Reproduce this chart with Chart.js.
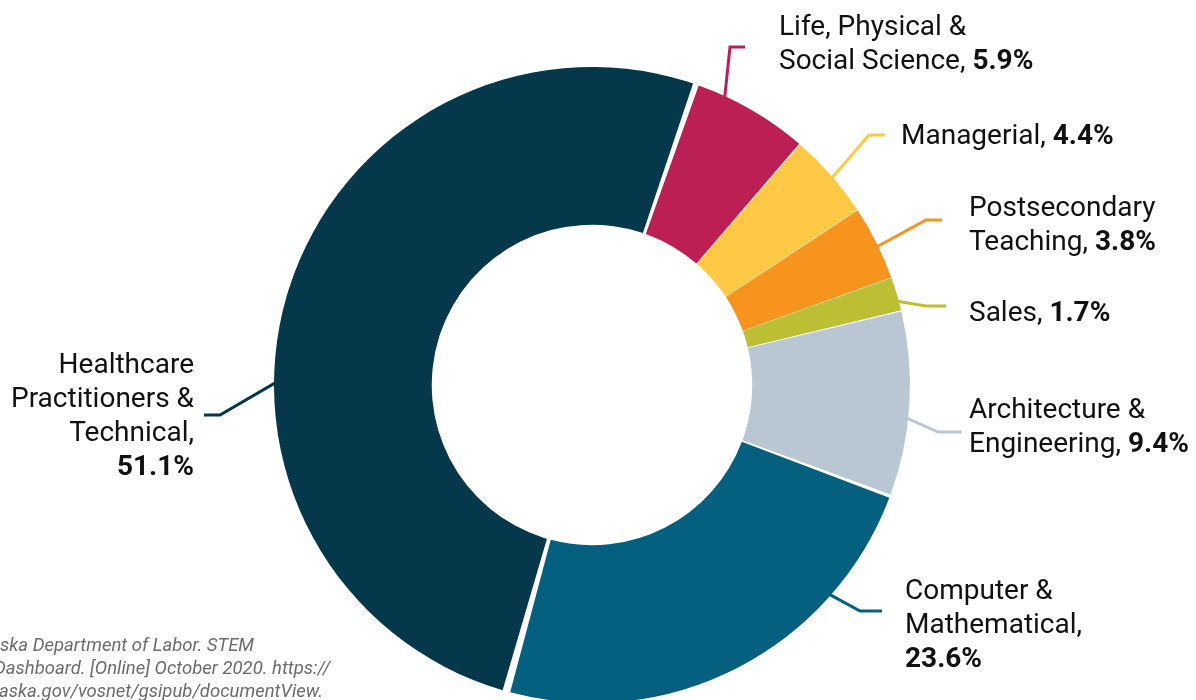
<!DOCTYPE html>
<html>
<head>
<meta charset="utf-8">
<script src="https://cdn.jsdelivr.net/npm/chart.js@4"></script>
<style>
  html, body { margin: 0; padding: 0; background: #fff; overflow: hidden; }
  #wrap { position: relative; width: 1196px; height: 720px; }
</style>
</head>
<body>
<div id="wrap"><canvas id="chart" width="1196" height="720"></canvas></div>
<script>
// Data, clockwise starting just right of the top
const categories = [
  'Life, Physical & Social Science',
  'Managerial',
  'Postsecondary Teaching',
  'Sales',
  'Architecture & Engineering',
  'Computer & Mathematical',
  'Healthcare Practitioners & Technical'
];
const shares = [5.9, 4.4, 3.8, 1.7, 9.4, 23.6, 51.1];
const colors = ['#BC1F53', '#FFC845', '#F7941E', '#BCBF33', '#B9C7D3', '#05607F', '#04384A'];

// Label text lines (the bold value goes after the last line)
const labelLines = [
  ['Life, Physical &', 'Social Science, '],
  ['Managerial, '],
  ['Postsecondary', 'Teaching, '],
  ['Sales, '],
  ['Architecture &', 'Engineering, '],
  ['Computer &', 'Mathematical,', ''],
  ['Healthcare', 'Practitioners &', 'Technical,', '']
];

const sourceLines = [
  ['Ala', 'ska Department of Labor. STEM'],
  ['', 'Dashboard. [Online] October 2020. https://'],
  ['jobs.al', 'aska.gov/vosnet/gsipub/documentView.']
];

// Leader / label layout: where on the slice the leader attaches (0..1),
// elbow point, line end, first-line baseline
const labelLayout = [
  { at: 0.26, ex: 730, ey: 47, lx: 745, tx: 779, ty: 35, align: 'left' },
  { at: 0.54, ex: 869, ey: 135, lx: 885, tx: 901, ty: 144, align: 'left' },
  { at: 0.55, ex: 926, ey: 220, lx: 942, tx: 969, ty: 216, align: 'left' },
  { at: 0.65, ex: 926, ey: 306, lx: 946, tx: 969, ty: 321, align: 'left' },
  { at: 0.57, ex: 938, ey: 432, lx: 962, tx: 969, ty: 418, align: 'left' },
  { at: 0.25, ex: 860, ey: 611, lx: 882, tx: 905, ty: 599, align: 'left' },
  { at: 0.41, ex: 220, ey: 415, lx: 204, tx: 194, ty: 373, align: 'right' }
];

const FONT = 'Roboto, "Noto Sans", sans-serif';
const LINE_H = 34;

const labelPlugin = {
  id: 'leaderLabels',
  afterDraw(chart) {
    const ctx = chart.ctx;
    const meta = chart.getDatasetMeta(0);
    ctx.save();
    meta.data.forEach((arc, i) => {
      const p = arc.getProps(['x', 'y', 'startAngle', 'endAngle', 'outerRadius']);
      const L = labelLayout[i];
      const a = p.startAngle + (p.endAngle - p.startAngle) * L.at;
      const r = p.outerRadius - 3;
      const sx = p.x + Math.cos(a) * r;
      const sy = p.y + Math.sin(a) * r;

      ctx.strokeStyle = colors[i];
      ctx.lineWidth = 3;
      ctx.lineJoin = 'miter';
      ctx.beginPath();
      ctx.moveTo(sx, sy);
      ctx.lineTo(L.ex, L.ey);
      ctx.lineTo(L.lx, L.ey);
      ctx.stroke();

      const lines = labelLines[i];
      const value = shares[i].toFixed(1) + '%';
      ctx.fillStyle = '#111';
      ctx.textBaseline = 'alphabetic';
      ctx.textAlign = 'left';
      lines.forEach((txt, j) => {
        const y = L.ty + j * LINE_H;
        const last = j === lines.length - 1;
        ctx.font = '400 28px ' + FONT;
        const w1 = ctx.measureText(txt).width;
        ctx.font = '700 28px ' + FONT;
        const w2 = last ? ctx.measureText(value).width : 0;
        const x0 = L.align === 'right' ? L.tx - (w1 + w2) : L.tx;
        ctx.font = '400 28px ' + FONT;
        ctx.fillText(txt, x0, y);
        if (last) {
          ctx.font = '700 28px ' + FONT;
          ctx.fillText(value, x0 + w1, y);
        }
      });
    });

    // source note, clipped at the left edge
    ctx.fillStyle = '#6b6b6b';
    ctx.font = 'italic 400 18.5px ' + FONT;
    ctx.textAlign = 'left';
    ctx.textBaseline = 'alphabetic';
    const shifts = [0, -6, -1];
    sourceLines.forEach((parts, j) => {
      const off = ctx.measureText(parts[0]).width;
      ctx.fillText(parts[0] + parts[1], shifts[j] - off, 651 + j * 23);
    });
    ctx.restore();
  }
};

new Chart(document.getElementById('chart'), {
  type: 'doughnut',
  data: {
    labels: categories,
    datasets: [{
      data: shares,
      backgroundColor: colors,
      borderWidth: 0,
      spacing: 5
    }]
  },
  options: {
    responsive: false,
    animation: false,
    rotation: 19.5,
    cutout: '50%',
    layout: { padding: { left: 274, right: 286, top: 67, bottom: 17 } },
    plugins: {
      legend: { display: false },
      tooltip: { enabled: false }
    }
  },
  plugins: [labelPlugin]
});
</script>
</body>
</html>
